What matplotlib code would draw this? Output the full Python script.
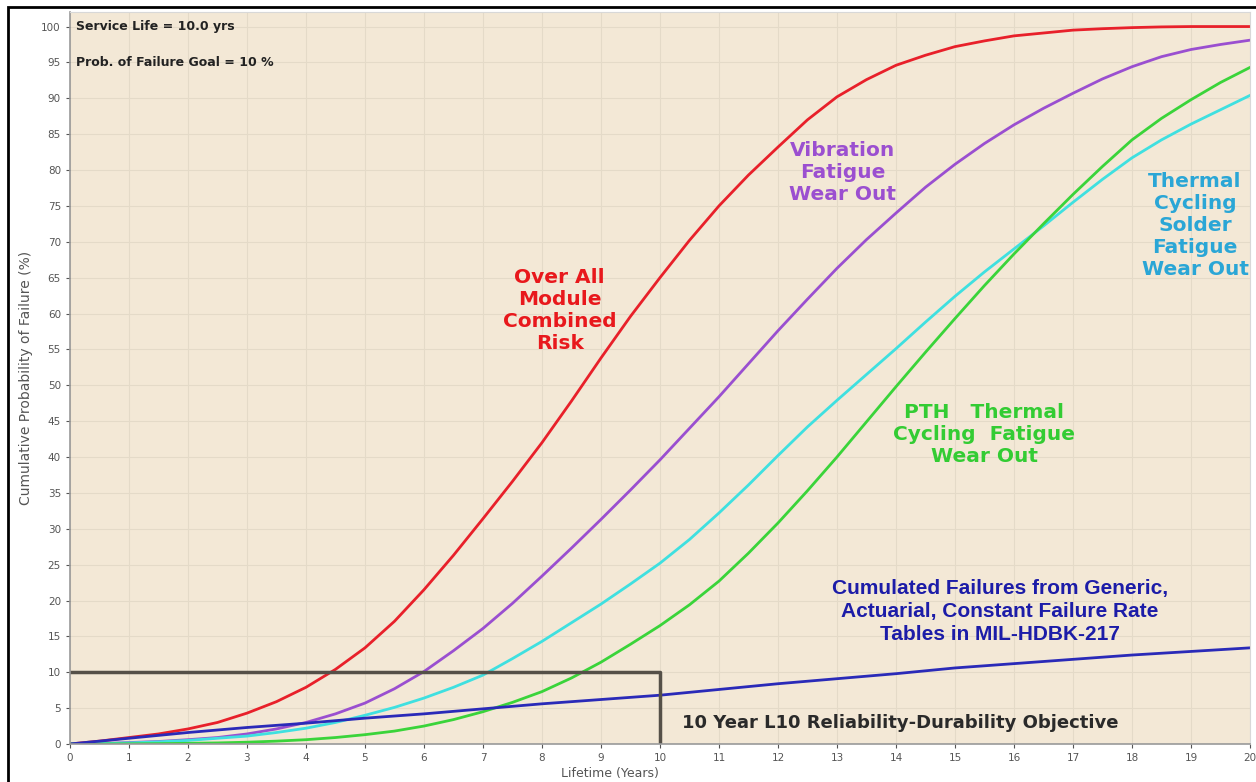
import numpy as np
import matplotlib.pyplot as plt
from matplotlib.patches import Rectangle

# Valores (probabilidad acumulada de fallo, %), cada medio anio
anios = np.arange(0, 20.5, 0.5)
total = [0, 0.4, 0.9, 1.4, 2.1, 3.0, 4.3, 5.9, 7.9, 10.4,
         13.4, 17.1, 21.5, 26.3, 31.4, 36.6, 42.0, 47.8, 53.8, 59.6,
         65.0, 70.2, 75.0, 79.3, 83.2, 87.0, 90.2, 92.6, 94.6, 96.0,
         97.2, 98.0, 98.7, 99.1, 99.5, 99.7, 99.85, 99.95, 100, 100, 100]
vibracion = [0, 0.05, 0.2, 0.35, 0.6, 0.9, 1.4, 2.1, 3.0, 4.2,
             5.7, 7.7, 10.1, 13.0, 16.1, 19.6, 23.4, 27.3, 31.3, 35.4,
             39.6, 44.0, 48.4, 53.0, 57.6, 62.0, 66.3, 70.3, 74.0, 77.6,
             80.8, 83.7, 86.3, 88.6, 90.7, 92.7, 94.4, 95.8, 96.8, 97.5, 98.1]
soldadura = [0, 0.05, 0.15, 0.3, 0.5, 0.8, 1.1, 1.6, 2.2, 3.0,
             4.0, 5.1, 6.4, 7.9, 9.6, 11.9, 14.3, 16.9, 19.5, 22.3,
             25.2, 28.5, 32.2, 36.1, 40.2, 44.2, 47.9, 51.5, 55.1, 58.8,
             62.4, 65.8, 69.0, 72.2, 75.5, 78.7, 81.7, 84.2, 86.4, 88.4, 90.4]
pth = [0, 0, 0.02, 0.05, 0.1, 0.15, 0.25, 0.4, 0.6, 0.9,
       1.3, 1.8, 2.5, 3.4, 4.5, 5.8, 7.3, 9.2, 11.4, 13.9,
       16.5, 19.4, 22.7, 26.6, 30.8, 35.3, 40.0, 44.9, 49.8, 54.6,
       59.3, 63.9, 68.3, 72.5, 76.6, 80.5, 84.2, 87.2, 89.8, 92.2, 94.3]
anios_217 = np.arange(0, 21)
mil217 = [0, 0.8, 1.6, 2.3, 2.9, 3.6, 4.2, 4.9, 5.6, 6.2, 6.8,
          7.6, 8.4, 9.1, 9.8, 10.6, 11.2, 11.8, 12.4, 12.9, 13.4]

# Objetivo L10: vida de servicio y probabilidad de fallo meta
vida_servicio = 10
meta_fallo = 10

fig = plt.figure(figsize=(12.56, 7.82), dpi=100)
ax = fig.add_axes([0.0557, 0.0486, 0.9395, 0.9358])
ax.set_facecolor('#f3e8d6')

ax.plot(anios, total, color='#e8202a', lw=2)
ax.plot(anios, vibracion, color='#9a4fd0', lw=2)
ax.plot(anios, soldadura, color='#3fe0e0', lw=2)
ax.plot(anios, pth, color='#3ad43a', lw=2)
ax.plot(anios_217, mil217, color='#2a2ab8', lw=2)

# Caja del objetivo 10 anios / 10 %
ax.plot([0, vida_servicio, vida_servicio], [meta_fallo, meta_fallo, 0], color='#555048', lw=2.5)

ax.set_xlim(0, 20)
ax.set_ylim(0, 102)
ax.set_xticks(range(0, 21))
ax.set_yticks(range(0, 101, 5))
ax.tick_params(labelsize=7.5, colors='#555555', length=3, width=0.8)
ax.grid(True, color='#e4dac8', lw=0.8)
ax.set_axisbelow(True)
for lado in ['top', 'right']:
    ax.spines[lado].set_color('#d8d8d8')
for lado in ['left', 'bottom']:
    ax.spines[lado].set_color('#999999')
    ax.spines[lado].set_linewidth(1.2)

ax.set_ylabel('Cumulative Probability of Failure (%)', fontsize=10, color='#555555', labelpad=6)
ax.set_xlabel('Lifetime (Years)', fontsize=9, color='#555555')
ax.xaxis.set_label_coords(0.458, -0.031)

ax.text(0.1, 100, 'Service Life = 10.0 yrs', fontsize=9, fontweight='bold', va='center', color='#222222')
ax.text(0.1, 95, 'Prob. of Failure Goal = 10 %', fontsize=9, fontweight='bold', va='center', color='#222222')

ancha = 'DejaVu Sans'
ax.text(8.3, 60.4, 'Over All\nModule\nCombined\nRisk', color='#e8181c', fontsize=14.5, fontweight='bold',
        ha='center', va='center', family=ancha, linespacing=1.2)
ax.text(13.1, 79.6, 'Vibration\nFatigue\nWear Out', color='#9b4fd0', fontsize=14.5, fontweight='bold',
        ha='center', va='center', family=ancha, linespacing=1.2)
ax.text(19.07, 72.2, 'Thermal\nCycling\nSolder\nFatigue\nWear Out', color='#2aa6d6', fontsize=14.5,
        fontweight='bold', ha='center', va='center', family=ancha, linespacing=1.2)
ax.text(15.5, 43.2, 'PTH   Thermal\nCycling  Fatigue\nWear Out', color='#33cc33', fontsize=14.5,
        fontweight='bold', ha='center', va='center', family=ancha, linespacing=1.2)
ax.text(15.76, 18.5, 'Cumulated Failures from Generic,\nActuarial, Constant Failure Rate\nTables in MIL-HDBK-217',
        color='#1c1ca8', fontsize=15, fontweight='bold', ha='center', va='center', family='Liberation Sans',
        linespacing=1.25)
ax.text(10.37, 2.9, '10 Year L10 Reliability-Durability Objective', color='#2a2a2a', fontsize=13,
        fontweight='bold', ha='left', va='center', family='DejaVu Sans')

# Marco negro alrededor de la figura
fig.patches.append(Rectangle((0.0065, -0.01), 0.995, 1.001, transform=fig.transFigure,
                             fill=False, edgecolor='black', lw=2))

plt.savefig('out.png', dpi=100)
